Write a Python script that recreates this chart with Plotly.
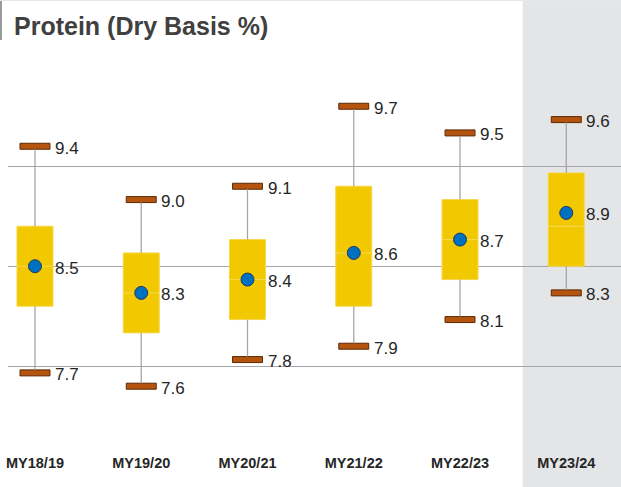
import plotly.graph_objects as go

# ---- data ----
categories = ["MY18/19", "MY19/20", "MY20/21", "MY21/22", "MY22/23", "MY23/24"]
maxima = [9.4, 9.0, 9.1, 9.7, 9.5, 9.6]
q3 = [8.8, 8.6, 8.7, 9.1, 9.0, 9.2]
medians = [8.5, 8.3, 8.4, 8.6, 8.7, 8.8]
means = [8.5, 8.3, 8.4, 8.6, 8.7, 8.9]
q1 = [8.2, 8.0, 8.1, 8.2, 8.4, 8.5]
minima = [7.7, 7.6, 7.8, 7.9, 8.1, 8.3]
grid_values = [7.75, 8.5, 9.25]

# ---- layout constants ----
W, H = 621, 487
L, R, T, B = 8, 0, 40, 35
Y_RANGE = [7.1065, 10.197]
X_RANGE = [-0.254, 5.515]
plot_h = H - T - B
plot_w = W - L - R
px_per_unit = plot_h / (Y_RANGE[1] - Y_RANGE[0])
cap_h = 6 / px_per_unit
BOX_W = 0.339
CAP_W = 0.282

pos = list(range(len(categories)))
n = len(pos)

BOX_COL = "#F2C800"
BOX_EDGE = "#F6D84E"
CAP_COL = "#B4540F"
CAP_EDGE = "#5C2A06"
WHISK_COL = "#A6A6A6"
MEAN_COL = "#0070C0"
MEAN_EDGE = "#1F3A5F"
TEXT_COL = "#262626"
SANS = "Liberation Sans, Arial, sans-serif"

fig = go.Figure()

# box halves
fig.add_trace(go.Bar(
    x=pos, y=[m - a for m, a in zip(medians, q1)], base=q1, width=BOX_W,
    marker=dict(color=BOX_COL, line=dict(color=BOX_EDGE, width=1)), hoverinfo="skip"))
fig.add_trace(go.Bar(
    x=pos, y=[b - m for b, m in zip(q3, medians)], base=medians, width=BOX_W,
    marker=dict(color=BOX_COL, line=dict(color=BOX_EDGE, width=1)), hoverinfo="skip"))

# caps
fig.add_trace(go.Bar(
    x=pos, y=[cap_h] * n, base=[v - cap_h / 2 for v in maxima], width=CAP_W,
    marker=dict(color=CAP_COL, line=dict(color=CAP_EDGE, width=1)), hoverinfo="skip"))
fig.add_trace(go.Bar(
    x=pos, y=[cap_h] * n, base=[v - cap_h / 2 for v in minima], width=CAP_W,
    marker=dict(color=CAP_COL, line=dict(color=CAP_EDGE, width=1)), hoverinfo="skip"))

# whiskers
wx, wy = [], []
for i in pos:
    wx += [i, i, None, i, i, None]
    wy += [q3[i], maxima[i] - cap_h / 2, None, q1[i], minima[i] + cap_h / 2, None]
fig.add_trace(go.Scatter(x=wx, y=wy, mode="lines",
                         line=dict(color=WHISK_COL, width=1.3), hoverinfo="skip"))

# means
fig.add_trace(go.Scatter(x=pos, y=means, mode="markers",
                         marker=dict(size=13, color=MEAN_COL, line=dict(color=MEAN_EDGE, width=1)),
                         hoverinfo="skip"))

annotations = []
for i in pos:
    for v in (maxima[i], means[i], minima[i]):
        annotations.append(dict(
            x=i, y=v, xref="x", yref="y", text=f"{v:.1f}", showarrow=False,
            xanchor="left", yanchor="middle", xshift=18, yshift=-2,
            font=dict(family=SANS, size=17, color=TEXT_COL)))

def py(pix):
    return (H - B - pix) / plot_h

def px(pix):
    return (pix - L) / plot_w

shapes = [
    dict(type="rect", xref="x", yref="paper", x0=pos[-1] - 0.41, x1=X_RANGE[1] + 0.2,
         y0=-0.3, y1=1.3, fillcolor="#E4E5E7", line=dict(width=0), layer="below"),
    dict(type="line", xref="paper", yref="paper", x0=px(1), x1=px(1), y0=py(0), y1=py(40),
         line=dict(color="#9A9A9A", width=2)),
    dict(type="line", xref="paper", yref="paper", x0=px(0), x1=1, y0=py(0.5), y1=py(0.5),
         line=dict(color="#E8E8E8", width=1)),
]

fig.update_layout(
    width=W, height=H,
    margin=dict(l=L, r=R, t=T, b=B, pad=0),
    paper_bgcolor="white", plot_bgcolor="rgba(0,0,0,0)",
    barmode="overlay", showlegend=False,
    title=dict(text="Protein (Dry Basis %)", xref="container", yref="container",
               x=14 / W, xanchor="left", y=1 - 26 / H, yanchor="middle",
               font=dict(family=SANS, size=25, weight="bold", color="#404040")),
    xaxis=dict(range=X_RANGE, tickmode="array", tickvals=pos, ticktext=categories,
               showgrid=False, zeroline=False, showline=False, ticks="",
               tickfont=dict(family=SANS, size=14.5, weight="bold", color=TEXT_COL)),
    yaxis=dict(range=Y_RANGE, tickmode="array", tickvals=grid_values, showticklabels=False,
               showgrid=True, gridcolor="#A6A6A6", gridwidth=1, zeroline=False, showline=False,
               ticks=""),
    annotations=annotations,
    shapes=shapes,
)

fig.write_html("out.html", config={"displayModeBar": False},
               post_script="document.body.style.margin='0';document.body.style.overflow='hidden';")
